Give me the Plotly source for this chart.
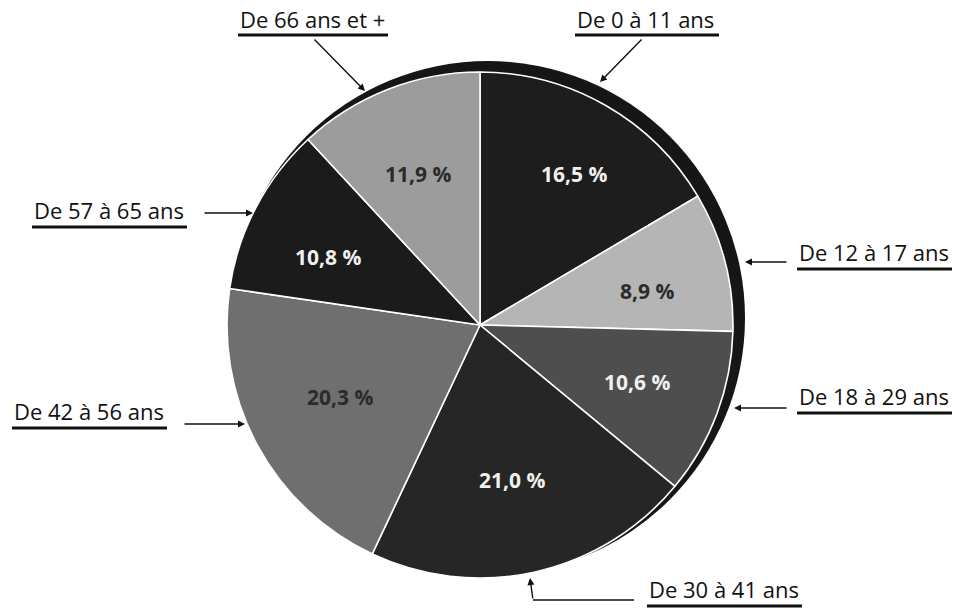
import plotly.graph_objects as go

# Répartition par tranche d'âge (sens horaire depuis midi)
tranches = ["De 0 à 11 ans", "De 12 à 17 ans", "De 18 à 29 ans", "De 30 à 41 ans",
            "De 42 à 56 ans", "De 57 à 65 ans", "De 66 ans et +"]
parts = [16.5, 8.9, 10.6, 21.0, 20.3, 10.8, 11.9]

couleurs = ["#1d1d1d", "#b5b5b5", "#4e4e4e", "#262626", "#6f6f6f", "#1b1b1b", "#9c9c9c"]
couleurs_texte = ["#f0f0f0", "#2b2b2b", "#f0f0f0", "#f0f0f0", "#2b2b2b", "#f0f0f0", "#2b2b2b"]

W, H = 962, 609
FONT = "Open Sans"


def px(x):
    return x / W


def py(y):
    return 1 - y / H


def domaine(cx, cy, r):
    return dict(x=[px(cx - r), px(cx + r)], y=[py(cy + r), py(cy - r)])


fig = go.Figure()

# disque sombre décalé, qui forme le rebord derrière le camembert
fig.add_trace(go.Pie(
    values=[1], labels=["fond"], sort=False, textinfo="none", hoverinfo="skip",
    marker=dict(colors=["#161616"], line=dict(width=0)),
    domain=domaine(488, 318, 257), showlegend=False,
))

fig.add_trace(go.Pie(
    values=parts, labels=tranches, sort=False, direction="clockwise", rotation=0,
    textinfo="none", hovertemplate="%{label}: %{value:.1f} %<extra></extra>",
    marker=dict(colors=couleurs, line=dict(color="white", width=1.6)),
    domain=domaine(480, 325, 253), showlegend=False,
))

annotations = []
shapes = []

# pourcentages dans les parts
pos_pct = [(574, 174), (647, 291), (637, 382), (512, 480), (340, 397), (328, 257), (418, 174)]
for v, (x, y), c in zip(parts, pos_pct, couleurs_texte):
    annotations.append(dict(
        x=px(x), y=py(y), xref="paper", yref="paper", showarrow=False,
        text="<b>" + f"{v:.1f}".replace(".", ",") + " %</b>",
        font=dict(family=FONT, size=21, color=c),
        xanchor="center", yanchor="middle",
    ))

# étiquettes externes : (x gauche, x droite, y du texte, y du soulignement)
pos_lab = [
    (575, 719, 19, 35),
    (797, 952, 252, 269),
    (797, 952, 396, 413),
    (647, 802, 589, 606),
    (12, 167, 411, 428),
    (32, 187, 210, 227),
    (238, 388, 19, 35),
]
for t, (x0, x1, yt, yu) in zip(tranches, pos_lab):
    annotations.append(dict(
        x=px(x0), y=py(yt), xref="paper", yref="paper", showarrow=False,
        text=t, font=dict(family=FONT, size=22, color="#111111"),
        xanchor="left", yanchor="middle",
    ))
    shapes.append(dict(type="line", xref="paper", yref="paper",
                       x0=px(x0), x1=px(x1), y0=py(yu), y1=py(yu),
                       line=dict(color="#111111", width=3)))

# flèches : (pointe x, pointe y, départ x, départ y)
fleches = [
    (600, 82, 643, 38),
    (745, 262, 788, 262),
    (734, 408, 788, 408),
    (530, 578, 533, 600),
    (245, 424, 183, 424),
    (253, 213, 203, 213),
    (365, 91, 313, 38),
]
for tx, ty, sx, sy in fleches:
    annotations.append(dict(
        x=px(tx), y=py(ty), xref="paper", yref="paper",
        ax=sx - tx, ay=sy - ty, axref="pixel", ayref="pixel",
        showarrow=True, arrowhead=2, arrowsize=1, arrowwidth=1.4,
        arrowcolor="#111111", text="",
    ))

# segment horizontal de la flèche coudée (30 à 41 ans)
shapes.append(dict(type="line", xref="paper", yref="paper",
                   x0=px(533), x1=px(634), y0=py(600), y1=py(600),
                   line=dict(color="#111111", width=1.6)))

fig.update_layout(
    width=W, height=H,
    margin=dict(l=0, r=0, t=0, b=0),
    paper_bgcolor="white", plot_bgcolor="white",
    showlegend=False,
    annotations=annotations,
    shapes=shapes,
)

fig.write_html("out.html")
